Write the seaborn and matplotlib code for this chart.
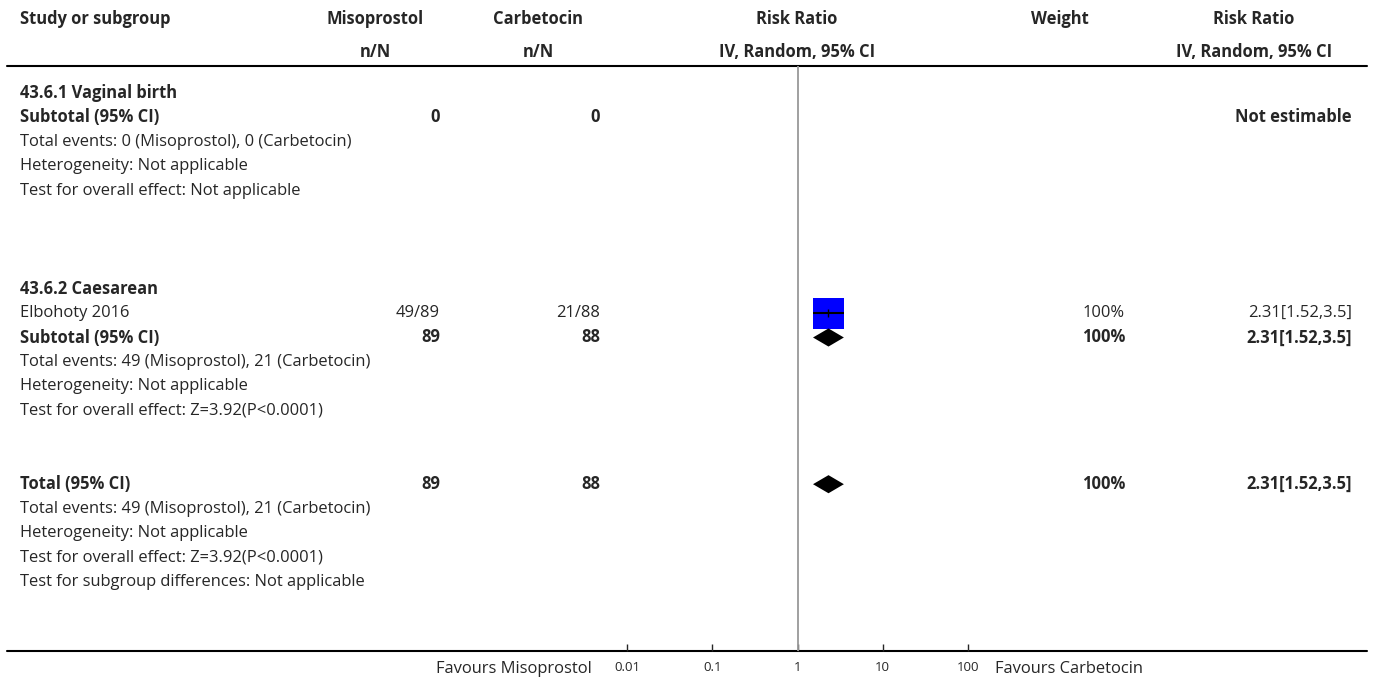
import matplotlib
matplotlib.use("Agg")
from matplotlib import pyplot as plt
import seaborn as sns
import pandas as pd

# ---- table content (one entry per row) ----
row_labels = [
    "43.6.1 Vaginal birth", "Subtotal (95% CI)",
    "Total events: 0 (Misoprostol), 0 (Carbetocin)",
    "Heterogeneity: Not applicable", "Test for overall effect: Not applicable",
    "", "", "",
    "43.6.2 Caesarean", "Elbohoty 2016", "Subtotal (95% CI)",
    "Total events: 49 (Misoprostol), 21 (Carbetocin)",
    "Heterogeneity: Not applicable", "Test for overall effect: Z=3.92(P<0.0001)",
    "", "",
    "Total (95% CI)",
    "Total events: 49 (Misoprostol), 21 (Carbetocin)",
    "Heterogeneity: Not applicable", "Test for overall effect: Z=3.92(P<0.0001)",
    "Test for subgroup differences: Not applicable",
]
row_bold = [1, 1, 0, 0, 0, 0, 0, 0, 1, 0, 1, 0, 0, 0, 0, 0, 1, 0, 0, 0, 0]
miso_col = ["", "0", "", "", "", "", "", "", "", "49/89", "89", "", "", "", "", "", "89", "", "", "", ""]
carb_col = ["", "0", "", "", "", "", "", "", "", "21/88", "88", "", "", "", "", "", "88", "", "", "", ""]
weight_col = ["", "", "", "", "", "", "", "", "", "100%", "100%", "", "", "", "", "", "100%", "", "", "", ""]
rr_col = ["", "Not estimable", "", "", "", "", "", "", "", "2.31[1.52,3.5]", "2.31[1.52,3.5]",
          "", "", "", "", "", "2.31[1.52,3.5]", "", "", "", ""]

# studies (squares) and pooled estimates (diamonds)
study_rows = [9]
study_rr = [2.31]
study_lo = [1.52]
study_hi = [3.5]
study_weight = [100]

pooled_rows = [10, 16]
pooled_rr = [2.31, 2.31]
pooled_lo = [1.52, 1.52]
pooled_hi = [3.5, 3.5]

tick_vals = [0.01, 0.1, 1, 10, 100]
tick_labels = ["0.01", "0.1", "1", "10", "100"]

# ---- layout (pixels) ----
W, H = 1373, 681
y0, dy = 93, 24.45
def row_y(i):
    return y0 + dy * i

sns.set_style("white")
plt.rcParams["font.family"] = ["Open Sans", "DejaVu Sans"]
fs = 11.9

fig = plt.figure(figsize=(W / 100, H / 100), dpi=100)
ax = fig.add_axes([0, 0, 1, 1])
ax.set_xlim(0, W)
ax.set_ylim(H, 0)
ax.axis("off")

# headers
hdr = dict(fontsize=fs, fontweight="bold", va="center")
ax.text(20, 19, "Study or subgroup", ha="left", **hdr)
ax.text(375, 19, "Misoprostol", ha="center", **hdr)
ax.text(375, 52, "n/N", ha="center", **hdr)
ax.text(538, 19, "Carbetocin", ha="center", **hdr)
ax.text(538, 52, "n/N", ha="center", **hdr)
ax.text(797, 19, "Risk Ratio", ha="center", **hdr)
ax.text(797, 52, "IV, Random, 95% CI", ha="center", **hdr)
ax.text(1060, 19, "Weight", ha="center", **hdr)
ax.text(1254, 19, "Risk Ratio", ha="center", **hdr)
ax.text(1254, 52, "IV, Random, 95% CI", ha="center", **hdr)
ax.plot([7, 1367], [66, 66], color="black", lw=1.5)
ax.plot([7, 1367], [651, 651], color="black", lw=1.5)

for i, lab in enumerate(row_labels):
    y = row_y(i)
    fw = "bold" if row_bold[i] else "normal"
    kw = dict(fontsize=fs, fontweight=fw, va="center")
    ax.text(20, y, lab, ha="left", **kw)
    ax.text(440, y, miso_col[i], ha="right", **kw)
    ax.text(600, y, carb_col[i], ha="right", **kw)
    ax.text(1125, y, weight_col[i], ha="right", **kw)
    ax.text(1352, y, rr_col[i], ha="right", **kw)

ax.text(592, 669, "Favours Misoprostol", ha="right", va="center", fontsize=fs)
ax.text(995, 669, "Favours Carbetocin", ha="left", va="center", fontsize=fs)

# ---- forest panel ----
fx0, fx1 = 627, 968
fy_top, fy_bot = 66, 651
axf = fig.add_axes([fx0 / W, (H - fy_bot) / H, (fx1 - fx0) / W, (fy_bot - fy_top) / H])
axf.set_facecolor("none")
axf.set_xscale("log")
axf.set_xlim(0.01, 100)
axf.set_ylim((fy_bot - y0) / dy, (fy_top - y0) / dy)
for s in ["top", "left", "right", "bottom"]:
    axf.spines[s].set_visible(False)
axf.set_yticks([])
axf.set_xticks(tick_vals)
axf.set_xticklabels(tick_labels)
axf.minorticks_off()
axf.tick_params(axis="x", direction="in", length=5, width=1, labelsize=9.5, pad=7, bottom=True)
axf.axvline(1, color="#999999", lw=1.3, zorder=1)

sdf = pd.DataFrame({"rr": study_rr, "row": study_rows, "w": study_weight})
sns.scatterplot(data=sdf, x="rr", y="row", size="w", sizes=(500, 500), marker="s",
                color="#0000ff", edgecolor="none", legend=False, ax=axf, zorder=3)
axf.hlines(study_rows, study_lo, study_hi, color="black", lw=1.5, zorder=4)
axf.vlines(study_rr, [r - 0.16 for r in study_rows], [r + 0.16 for r in study_rows],
           color="black", lw=1, zorder=4)

for r, est, lo, hi in zip(pooled_rows, pooled_rr, pooled_lo, pooled_hi):
    axf.fill([lo, est, hi, est], [r, r - 0.37, r, r + 0.37], color="black", lw=0, zorder=3)

axf.set_xlabel("")
axf.set_ylabel("")

fig.savefig("out.png", dpi=100)
